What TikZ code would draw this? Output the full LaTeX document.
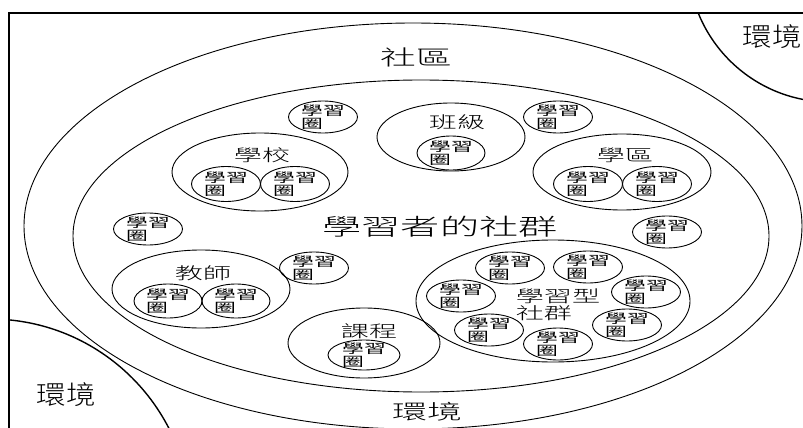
\documentclass[tikz,border=0pt]{standalone}
\usepackage{fontspec}
\newfontfamily\cjk[FakeStretch=1.7]{Noto Sans CJK TC Light}
\newfontfamily\cjks[FakeStretch=1.7]{Noto Sans CJK TC}
\newfontfamily\cjkn[FakeStretch=1.13]{Noto Sans CJK TC Light}
\usetikzlibrary{shapes.geometric}
\tikzset{
  lc/.style={draw, ellipse, line width=0.9pt, inner sep=0pt, minimum width=69pt, minimum height=32pt},
  lctext/.style={font=\cjks\fontsize{12.8}{13.5}\selectfont, align=left, inner sep=0pt},
  grp/.style={draw, ellipse, line width=0.9pt, inner sep=0pt},
  midtext/.style={font=\cjk\fontsize{16.5}{17}\selectfont, inner sep=0pt, align=left},
  bigtext/.style={font=\cjk\fontsize{23}{25}\selectfont, inner sep=0pt},
  envtext/.style={font=\cjkn\fontsize{26}{28}\selectfont, inner sep=0pt},
  thick1/.style={line width=1.4pt},
}
\newcommand\lctxt{學習\\圈}
\begin{document}
\begin{tikzpicture}[x=1pt,y=-1pt]
\useasboundingbox (0,0) rectangle (803,428);
% frame
\coordinate (fbl) at (9,430);
\coordinate (ftl) at (9,13);
\coordinate (ftr) at (805,13);
\draw[thick1] (fbl) -- (ftl) -- (ftr);
% environment circles
\begin{scope}
\clip (9,13) rectangle (805,430);
\node[circle, draw, thick1, minimum size=284pt, inner sep=0pt] (envTR) at (830,-40) {};
\node[circle, draw, thick1, minimum size=402pt, inner sep=0pt] (envBL) at (-10,520) {};
\end{scope}
\node[envtext] (tEnvTR) at (772,37) {環境};
\node[envtext] (tEnvBL) at (66,395) {環境};
% community ellipses
\node[grp, minimum width=778pt, minimum height=406pt] (outer) at (413,226) {};
\node[grp, minimum width=696pt, minimum height=312pt] (inner) at (421,236) {};
\node[bigtext, font=\cjk\fontsize{21}{23}\selectfont] (tShequ) at (416,57) {社區};
\node[bigtext] (tLearners) at (440,227) {學習者的社群};
\node[bigtext, font=\cjk\fontsize{20.5}{22}\selectfont] (tEnvB) at (427,412) {環境};
% loose learning circles
\node[lc, label={[lctext]center:{\lctxt}}] (s1) at (323,117) {};
\node[lc, label={[lctext]center:{\lctxt}}] (s2) at (558,117) {};
\node[lc, label={[lctext]center:{\lctxt}}] (s3) at (148,229) {};
\node[lc, label={[lctext]center:{\lctxt}}] (s4) at (667,232) {};
\node[lc, label={[lctext]center:{\lctxt}}] (s5) at (314,268) {};
% class
\node[grp, minimum width=148pt, minimum height=68pt] (class) at (451,137) {};
\node[midtext] (tClass) at (457,122) {班級};
\node[lc, minimum width=68pt, minimum height=34pt, label={[lctext]center:{\lctxt}}] (c1) at (451,153) {};
% school
\node[grp, minimum width=176pt, minimum height=78pt] (school) at (260,172) {};
\node[midtext] (tSchool) at (262,155) {學校};
\node[lc, minimum width=69pt, minimum height=35pt, label={[lctext]center:{\lctxt}}] (sc1) at (226,184) {};
\node[lc, minimum width=69pt, minimum height=35pt, label={[lctext]center:{\lctxt}}] (sc2) at (295,184) {};
% district
\node[grp, minimum width=178pt, minimum height=76pt] (district) at (622,172) {};
\node[midtext] (tDistrict) at (625,155) {學區};
\node[lc, minimum width=69pt, minimum height=35pt, label={[lctext]center:{\lctxt}}] (d1) at (588,184) {};
\node[lc, minimum width=69pt, minimum height=35pt, label={[lctext]center:{\lctxt}}] (d2) at (657,184) {};
% teachers
\node[grp, minimum width=178pt, minimum height=78pt] (teacher) at (201,289) {};
\node[midtext] (tTeacher) at (203,273) {教師};
\node[lc, minimum width=68pt, minimum height=34pt, label={[lctext]center:{\lctxt}}] (t1) at (168,301) {};
\node[lc, minimum width=68pt, minimum height=34pt, label={[lctext]center:{\lctxt}}] (t2) at (236,301) {};
% curriculum
\node[grp, minimum width=152pt, minimum height=70pt] (course) at (364,343) {};
\node[midtext] (tCourse) at (369,331) {課程};
\node[lc, minimum width=72pt, minimum height=30pt, label={[lctext]center:{\lctxt}}] (cu1) at (364,355) {};
% learning community
\node[grp, minimum width=274pt, minimum height=122pt] (lcomm) at (553,301) {};
\node[midtext] (tLcomm) at (558,305) {學習型\\社群};
\node[lc, label={[lctext]center:{\lctxt}}] (la) at (510,268) {};
\node[lc, label={[lctext]center:{\lctxt}}] (lb) at (588,267) {};
\node[lc, label={[lctext]center:{\lctxt}}] (lcc) at (461,296) {};
\node[lc, label={[lctext]center:{\lctxt}}] (ld) at (646,292) {};
\node[lc, label={[lctext]center:{\lctxt}}] (le) at (489,330) {};
\node[lc, label={[lctext]center:{\lctxt}}] (lf) at (627,325) {};
\node[lc, label={[lctext]center:{\lctxt}}] (lg) at (558,344) {};
\end{tikzpicture}
\end{document}
